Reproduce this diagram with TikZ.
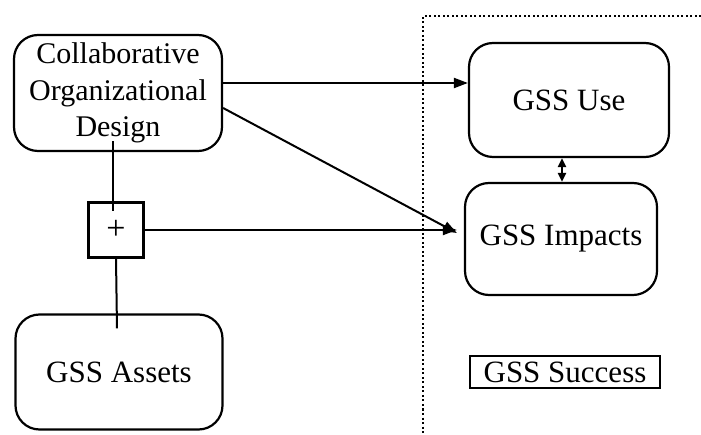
\documentclass[tikz,border=0pt]{standalone}
\usepackage{fontspec}
\setmainfont{Liberation Serif}
\usetikzlibrary{arrows.meta}
\begin{document}
\begin{tikzpicture}[x=1pt,y=-1pt,
  box/.style={draw,line width=2.2pt,rounded corners=24pt,align=center,inner sep=0pt,
    font=\fontsize{30}{36.5}\selectfont},
  conn/.style={line width=2pt},
  arr/.style={conn,-{Triangle[length=14pt,width=10pt]}},
  frame/.style={line width=2pt,dash pattern=on 2pt off 2.5pt}]
\useasboundingbox (0,0) rectangle (701,435);
\node[box,minimum width=208pt,minimum height=116pt] (cod) at (118,93) {Collaborative\\Organizational\\Design};
\node[box,minimum width=200pt,minimum height=114pt,font=\fontsize{31}{36}\selectfont] (use) at (569,100) {GSS Use};
\node[box,minimum width=192pt,minimum height=112pt,font=\fontsize{31}{36}\selectfont] (imp) at (561,239) {GSS Impacts};
\node[box,minimum width=207pt,minimum height=115pt,font=\fontsize{31}{36}\selectfont] (ast) at (119,372) {GSS Assets};
\node[draw,line width=2.2pt,minimum size=55pt,inner sep=0pt,font=\fontsize{34}{34}\selectfont] (plus) at (116,230) {+};
\node[draw,line width=1.3pt,minimum width=190pt,minimum height=32pt,inner sep=0pt,font=\fontsize{31}{36}\selectfont] (succ) at (565,372) {GSS Success};
\coordinate (ftop) at (423,16);
\coordinate (fright) at (701,16);
\coordinate (fbot) at (423,435);
\draw[frame] (fright) -- (ftop) -- (fbot);
\draw[arr] ([yshift=10pt]cod.east) -- ([yshift=17pt]use.west);
\draw[arr] ([yshift=-15pt]cod.east) -- ([xshift=-7pt,yshift=6pt]imp.west);
\draw[arr] (plus.east) -- ([xshift=-7pt,yshift=9pt]imp.west);
\draw[conn] ([xshift=-5pt,yshift=11pt]cod.south) -- ([xshift=-3pt,yshift=-10pt]plus.north);
\draw[conn] (plus.south) -- ([xshift=-2pt,yshift=-15pt]ast.north);
\draw[conn,{Triangle[length=9pt,width=8pt]}-{Triangle[length=9pt,width=8pt]}] ([xshift=-7pt]use.south) -- ([xshift=1pt]imp.north);
\end{tikzpicture}
\end{document}
